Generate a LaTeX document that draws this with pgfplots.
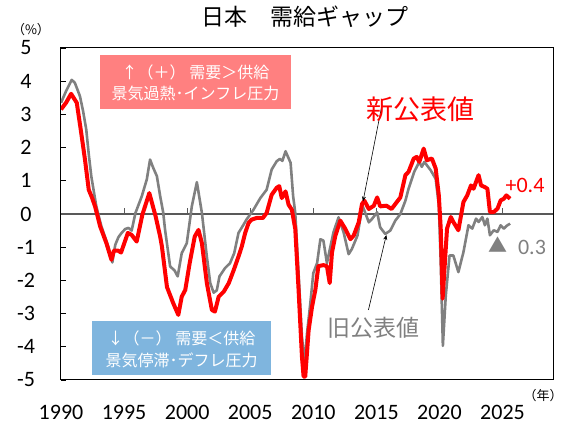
\documentclass[border=0pt]{standalone}
\usepackage{fontspec}
\setmainfont{Carlito}
\newfontfamily\jp{Noto Sans CJK JP}
\usepackage{pgfplots}
\pgfplotsset{compat=1.18}
\usetikzlibrary{arrows.meta}
\definecolor{newred}{RGB}{255,0,0}
\definecolor{oldgray}{RGB}{128,128,128}
\definecolor{pinkbox}{RGB}{255,128,128}
\definecolor{bluebox}{RGB}{127,181,222}
\definecolor{zeroline}{RGB}{89,89,89}
\begin{document}
\begin{tikzpicture}
\path[use as bounding box] (0pt,0pt) rectangle (565pt,428pt);
\begin{axis}[
  at={(61pt,48pt)}, anchor=south west,
  scale only axis, width=492pt, height=332pt,
  xmin=1990, xmax=2029, ymin=-5, ymax=5,
  axis line style={black, line width=1pt},
  xtick={1990,1995,2000,2005,2010,2015,2020,2025},
  xticklabels={1990,1995,2000,2005,2010,2015,2020,2025},
  ytick={-5,-4,-3,-2,-1,0,1,2,3,4,5},
  yticklabels={-5,-4,-3,-2,-1,0,1,2,3,4,5},
  ytick pos=left, xtick pos=bottom,
  tick align=inside, major tick length=5pt,
  xtick style={draw=none},
  ytick style={black, line width=0.8pt},
  xticklabel style={anchor=center, yshift=-32pt, font=\fontsize{22}{26}\selectfont},
  yticklabel style={anchor=center, xshift=-35pt, font=\fontsize{22}{26}\selectfont},
  clip=true,
]
\draw[zeroline, line width=1.3pt] (axis cs:1990,0) -- (axis cs:2029,0);
\draw[zeroline, line width=1pt] (axis cs:1995,0) -- (axis cs:1995,0.18);
\draw[zeroline, line width=1pt] (axis cs:2000,0) -- (axis cs:2000,0.18);
\draw[zeroline, line width=1pt] (axis cs:2005,0) -- (axis cs:2005,0.18);
\draw[zeroline, line width=1pt] (axis cs:2010,0) -- (axis cs:2010,0.18);
\draw[zeroline, line width=1pt] (axis cs:2015,0) -- (axis cs:2015,0.18);
\draw[zeroline, line width=1pt] (axis cs:2020,0) -- (axis cs:2020,0.18);
\draw[zeroline, line width=1pt] (axis cs:2025,0) -- (axis cs:2025,0.18);
\addplot[oldgray, line width=2.6pt, line join=round] coordinates {
(1990.0,3.35)(1990.4,3.7)(1990.85,4.04)(1991.1,3.95)(1991.5,3.55)(1991.75,3.1)
(1992.0,2.55)(1992.2,1.8)(1992.4,1.14)(1992.8,0.23)(1993.2,-0.37)(1993.5,-0.7)
(1993.75,-0.98)(1994.07,-1.46)(1994.3,-0.93)(1994.55,-0.7)(1994.8,-0.57)(1995.1,-0.45)
(1995.35,-0.42)(1995.6,-0.5)(1995.9,0.03)(1996.4,0.53)(1996.8,1.04)(1997.06,1.64)
(1997.3,1.4)(1997.6,1.14)(1997.86,0.54)(1998.1,0.05)(1998.25,-0.48)(1998.65,-1.58)
(1999.0,-1.7)(1999.25,-1.88)(1999.57,-1.18)(1999.97,-0.88)(2000.37,0.23)(2000.77,0.96)
(2001.17,0.03)(2001.56,-1.28)(2001.83,-2.08)(2002.1,-2.37)(2002.35,-2.3)(2002.56,-1.88)
(2003.0,-1.63)(2003.4,-1.48)(2003.73,-1.18)(2004.07,-0.57)(2004.47,-0.32)(2004.7,-0.17)
(2005.26,0.13)(2005.8,0.48)(2006.3,0.73)(2006.7,1.34)(2007.1,1.59)(2007.35,1.66)
(2007.55,1.6)(2007.8,1.89)(2008.2,1.54)(2008.4,0.54)(2008.57,0.03)(2008.83,-1.78)
(2009.1,-3.7)(2009.3,-4.5)(2009.5,-3.6)(2009.76,-2.7)(2010.0,-1.78)(2010.3,-1.48)
(2010.56,-0.76)(2010.8,-0.8)(2011.08,-1.48)(2011.3,-1.08)(2011.6,-0.55)(2012.0,-0.1)
(2012.4,-0.55)(2012.8,-1.21)(2013.05,-1.06)(2013.5,-0.65)(2013.9,0.25)(2014.1,0.05)
(2014.4,-0.25)(2014.65,-0.15)(2015.06,0.05)(2015.3,-0.4)(2015.7,-0.6)(2016.1,-0.5)
(2016.5,-0.2)(2016.9,0.0)(2017.3,0.4)(2017.55,0.76)(2018.0,1.27)(2018.4,1.57)
(2018.6,1.42)(2018.8,1.57)(2019.3,1.32)(2019.7,1.06)(2019.95,0.26)(2020.1,-1.45)
(2020.27,-3.97)(2020.5,-2.46)(2020.8,-1.25)(2021.1,-1.25)(2021.5,-1.75)(2021.9,-1.15)
(2022.3,-0.34)(2022.6,-0.44)(2022.9,-0.14)(2023.1,-0.24)(2023.4,-0.09)(2023.6,-0.34)
(2023.8,-0.14)(2024.0,-0.64)(2024.3,-0.49)(2024.6,-0.54)(2024.85,-0.34)(2025.1,-0.44)
(2025.35,-0.35)(2025.6,-0.29)
};
\addplot[newred, line width=4pt, line join=round] coordinates {
(1990.0,3.15)(1990.4,3.35)(1990.8,3.62)(1991.25,3.35)(1991.6,2.45)(1991.9,1.64)
(1992.2,0.73)(1992.45,0.5)(1992.7,0.23)(1993.1,-0.37)(1993.6,-0.88)(1994.0,-1.38)
(1994.2,-1.1)(1994.5,-1.1)(1994.76,-1.16)(1995.3,-0.57)(1995.6,-0.63)(1996.0,-0.83)
(1996.45,-0.02)(1997.0,0.63)(1997.5,-0.07)(1997.86,-0.68)(1998.0,-0.98)(1998.4,-2.2)
(1998.9,-2.69)(1999.3,-3.04)(1999.57,-2.49)(1999.85,-2.29)(2000.2,-1.48)(2000.6,-0.68)
(2000.9,-0.48)(2001.17,-0.88)(2001.56,-2.08)(2001.96,-2.89)(2002.2,-2.94)(2002.5,-2.49)
(2002.9,-2.34)(2003.3,-2.08)(2003.7,-1.68)(2004.07,-1.28)(2004.33,-0.98)(2004.6,-0.57)
(2004.87,-0.27)(2005.1,-0.17)(2005.5,-0.12)(2006.0,-0.12)(2006.3,0.03)(2006.7,0.58)
(2007.1,0.79)(2007.3,0.84)(2007.5,0.48)(2007.8,0.68)(2008.04,0.28)(2008.3,0.13)
(2008.57,-0.45)(2008.83,-2.27)(2009.1,-4.3)(2009.23,-4.9)(2009.36,-4.9)(2009.63,-3.5)
(2009.9,-2.79)(2010.16,-2.29)(2010.4,-1.57)(2010.8,-1.54)(2011.08,-1.57)(2011.3,-2.08)
(2011.48,-1.16)(2011.75,-0.65)(2012.14,-0.2)(2012.54,-0.45)(2012.94,-0.76)(2013.2,-0.65)
(2013.6,-0.25)(2013.86,0.3)(2014.05,0.4)(2014.4,0.15)(2014.8,0.25)(2015.06,0.5)
(2015.3,0.23)(2015.8,0.25)(2016.2,0.15)(2016.5,0.3)(2016.9,0.5)(2017.3,1.17)
(2017.55,1.27)(2017.96,1.67)(2018.2,1.72)(2018.4,1.57)(2018.75,1.97)(2019.0,1.62)
(2019.4,1.67)(2019.7,1.37)(2019.95,0.56)(2020.1,-0.43)(2020.25,-2.55)(2020.4,-1.64)
(2020.6,-0.44)(2020.9,-0.09)(2021.1,-0.24)(2021.5,-0.49)(2021.9,0.36)(2022.2,0.56)
(2022.5,0.86)(2022.7,0.76)(2023.1,1.17)(2023.3,0.86)(2023.6,0.81)(2023.8,0.76)
(2024.0,0.06)(2024.3,0.06)(2024.6,0.16)(2024.85,0.41)(2025.1,0.46)(2025.3,0.56)
(2025.6,0.46)
};
\draw[black, line width=0.6pt, -{Stealth[length=5pt,width=4pt]}] (axis cs:2015.45,3.3) -- (axis cs:2013.94,0.38);
\draw[black, line width=0.6pt, -{Stealth[length=5pt,width=4pt]}] (axis cs:2014.37,-2.89) -- (axis cs:2015.79,-0.63);
\end{axis}
\begin{scope}[x=1pt,y=1pt]
% boxes
\fill[pinkbox] (100,319) rectangle (291,373);
\node[white, font=\jp\fontsize{16}{18}\selectfont] at (195.5,356) {↑（＋）\ 需要＞供給};
\node[white, font=\jp\fontsize{16}{18}\selectfont] at (195.5,335) {景気過熱･インフレ圧力};
\fill[bluebox] (92,53) rectangle (271,107);
\node[white, font=\jp\fontsize{16}{18}\selectfont] at (181.5,90) {↓（－）\ 需要＜供給};
\node[white, font=\jp\fontsize{16}{18}\selectfont] at (181.5,68) {景気停滞･デフレ圧力};
% annotations
\node[newred, font=\jp\fontsize{27}{30}\selectfont] at (420,319) {新公表値};
\node[oldgray, font=\jp\fontsize{23}{26}\selectfont] at (373,100) {旧公表値};
\node[newred, font=\fontsize{22}{26}\selectfont] at (525,243) {+0.4};
\node[oldgray, font=\jp\fontsize{19}{22}\selectfont] at (498,183) {▲};
\node[oldgray, font=\fontsize{22}{26}\selectfont] at (532,181) {0.3};
% title and units
\node[black, font=\jp\fontsize{23}{26}\selectfont] at (305,411) {日本　需給ギャップ};
\node[black, font=\jp\fontsize{13}{15}\selectfont] at (31,398) {（\%）};
\node[black, font=\jp\fontsize{13}{15}\selectfont] at (543,32) {（年）};
\end{scope}
\end{tikzpicture}
\end{document}
